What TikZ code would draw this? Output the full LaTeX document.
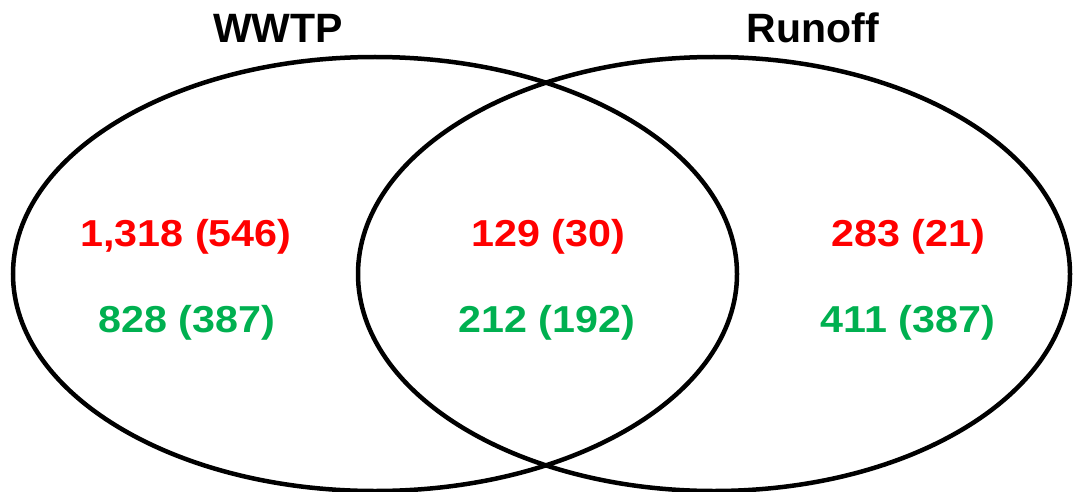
\documentclass[tikz,border=0pt]{standalone}
\usepackage{fontspec}
\setmainfont{Liberation Sans}
\newfontfamily\countfont[FakeStretch=1.1]{Liberation Sans}
\usetikzlibrary{shapes.geometric}
\definecolor{setred}{RGB}{255,0,0}
\definecolor{setgreen}{RGB}{0,176,80}
\tikzset{
  setring/.style={ellipse, draw=black, line width=4.5pt, inner sep=0pt,
    minimum width=#1},
  settitle/.style={anchor=base, font=\fontsize{41}{41}\selectfont\bfseries, inner sep=0pt},
  countred/.style={anchor=base, text=setred, font=\countfont\fontsize{37.5}{37.5}\selectfont\bfseries, inner sep=0pt},
  countgreen/.style={anchor=base, text=setgreen, font=\countfont\fontsize{37.5}{37.5}\selectfont\bfseries, inner sep=0pt}
}
\begin{document}
\begin{tikzpicture}[x=1pt, y=-1pt]
  \useasboundingbox (0,0) rectangle (1075,492);
  % the two sets
  \node[setring=724pt, minimum height=434pt] (wwtp) at (375,274) {};
  \node[setring=712pt, minimum height=434pt] (runoff) at (714,274) {};
  % set titles
  \node[settitle] (twwtp) at (278,43) {WWTP};
  \node[settitle] (trunoff) at (813,43) {Runoff};
  % counts per region
  \node[countred] (lr) at (186,246) {1,318 (546)};
  \node[countgreen] (lg) at (187,332) {828 (387)};
  \node[countred] (mr) at (548,246) {129 (30)};
  \node[countgreen] (mg) at (547,332) {212 (192)};
  \node[countred] (rr) at (908,246) {283 (21)};
  \node[countgreen] (rg) at (908,332) {411 (387)};
\end{tikzpicture}
\end{document}
